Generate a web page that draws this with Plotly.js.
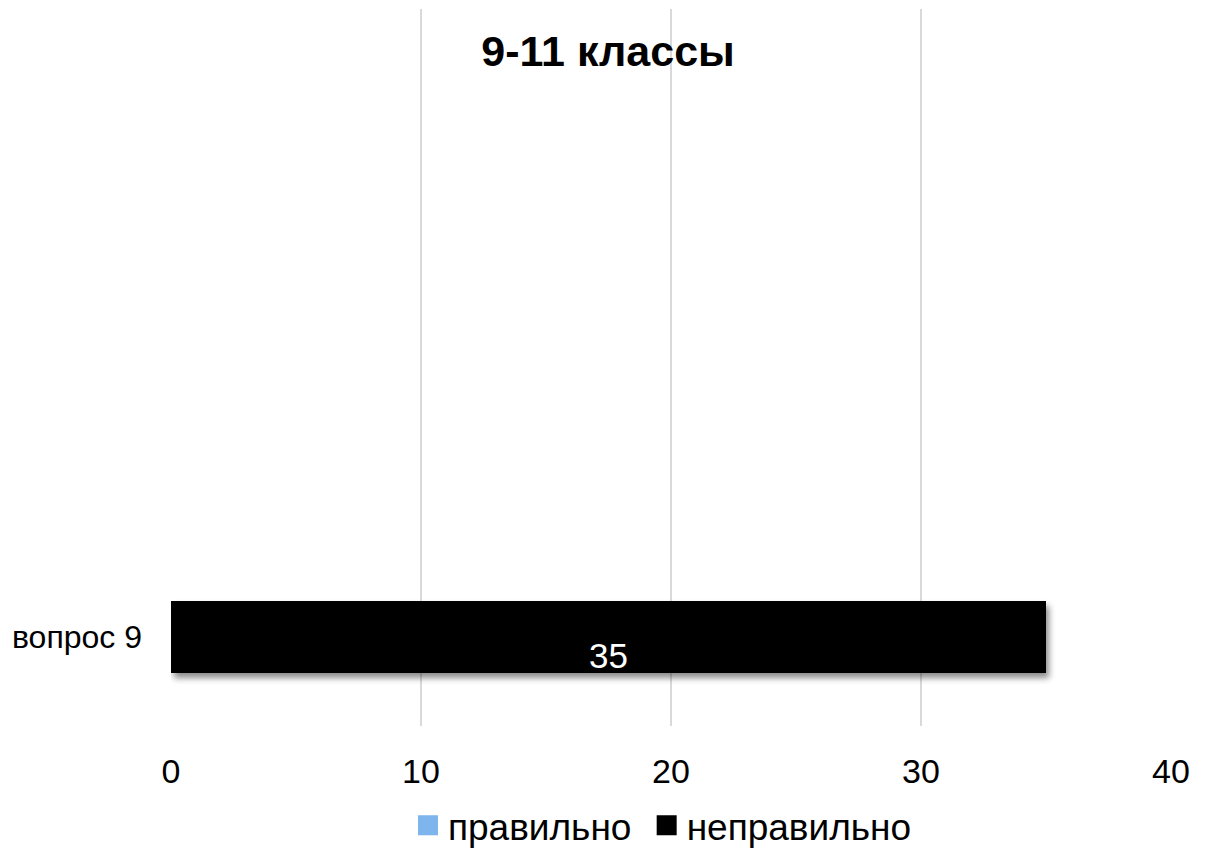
<!DOCTYPE html>
<html>
<head>
<meta charset="utf-8">
<script src="https://cdn.plot.ly/plotly-3.0.1.min.js"></script>
<style>
html,body{margin:0;padding:0;background:#fff;}
#chart{width:1205px;height:851px;}
</style>
</head>
<body>
<div id="chart"></div>
<script>
// Data
const categories = ["вопрос 9"];
const seriesNames = ["правильно", "неправильно"];
const correct = [0];
const incorrect = [35];
const seriesColors = ["#7DB5EC", "#000000"];
const xTicks = [0, 10, 20, 30, 40];
const chartTitle = "9-11 классы";

const FONT = "Liberation Sans, Arial, sans-serif";

const traces = [
  {type: "bar", orientation: "h", name: seriesNames[0], y: categories, x: correct,
   marker: {color: seriesColors[0]}, width: 1, showlegend: false, hoverinfo: "x+y"},
  {type: "bar", orientation: "h", name: seriesNames[1], y: categories, x: incorrect,
   marker: {color: seriesColors[1]}, width: 1, showlegend: false, hoverinfo: "x+y"},
  // legend entries (a trailing no-break space widens the gap between the two entries)
  {type: "scatter", mode: "markers", name: seriesNames[0] + "\u00a0", x: [null], y: [null],
   marker: {symbol: "square", size: 16, color: seriesColors[0], line: {color: seriesColors[0], width: 4}}, showlegend: true},
  {type: "scatter", mode: "markers", name: seriesNames[1], x: [null], y: [null],
   marker: {symbol: "square", size: 16, color: seriesColors[1], line: {color: seriesColors[1], width: 4}}, showlegend: true}
];

// value labels (white, inside the bar)
const annotations = categories.map((c, i) => ({
  x: correct[i] + incorrect[i] / 2, y: c, xref: "x", yref: "y",
  text: String(incorrect[i]), showarrow: false, yshift: -18,
  font: {family: FONT, size: 35, color: "#ffffff"}
}));

const layout = {
  width: 1205, height: 851,
  margin: {l: 171, r: 34, t: 9, b: 125, autoexpand: false},
  paper_bgcolor: "#ffffff", plot_bgcolor: "#ffffff",
  barmode: "stack",
  title: {text: "<b>" + chartTitle + "</b>", x: 0.5046, xref: "container", xanchor: "center",
          y: 1 - 51/851, yref: "container", yanchor: "middle",
          font: {family: FONT, size: 43, color: "#000000"}},
  xaxis: {range: [0, 40], tickvals: xTicks, ticktext: xTicks.map(String),
          showgrid: true, gridcolor: "#d9d9d9", gridwidth: 2,
          zeroline: false, showline: false, ticks: "",
          ticklabelstandoff: 22,
          tickfont: {family: FONT, size: 34, color: "#000000"}, fixedrange: true},
  yaxis: {type: "category", range: [-89/72, 628/72], showgrid: false, zeroline: false,
          showline: false, ticks: "", ticklabelstandoff: 28,
          tickfont: {family: FONT, size: 32, color: "#000000"}, fixedrange: true},
  legend: {orientation: "h", traceorder: "normal", x: 0.4915, xanchor: "center", y: -0.139, yanchor: "middle",
           font: {family: FONT, size: 37, color: "#000000"}, itemsizing: "trace",
           bgcolor: "rgba(0,0,0,0)"},
  annotations: annotations,
  showlegend: true
};

Plotly.newPlot("chart", traces, layout, {displayModeBar: false, staticPlot: true}).then(gd => {
  // soft shadow under the bars, like the original chart
  const svg = gd.querySelector("svg.main-svg");
  const ns = "http://www.w3.org/2000/svg";
  let defs = svg.querySelector("defs");
  if (!defs) { defs = document.createElementNS(ns, "defs"); svg.insertBefore(defs, svg.firstChild); }
  const f = document.createElementNS(ns, "filter");
  f.setAttribute("id", "barShadow");
  f.setAttribute("x", "-10%"); f.setAttribute("y", "-40%");
  f.setAttribute("width", "130%"); f.setAttribute("height", "190%");
  const ds = document.createElementNS(ns, "feDropShadow");
  ds.setAttribute("dx", "3"); ds.setAttribute("dy", "5");
  ds.setAttribute("stdDeviation", "3");
  ds.setAttribute("flood-color", "#000000"); ds.setAttribute("flood-opacity", "0.45");
  f.appendChild(ds);
  defs.appendChild(f);
  gd.querySelectorAll(".barlayer .point path").forEach(p => p.setAttribute("filter", "url(#barShadow)"));
});
</script>
</body>
</html>
